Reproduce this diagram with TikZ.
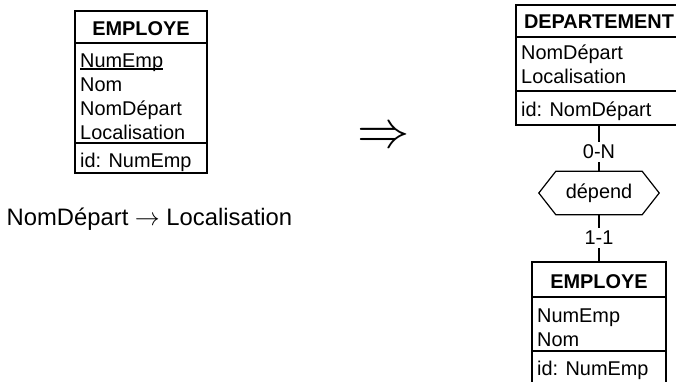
\documentclass[tikz,border=0pt]{standalone}
\usepackage{graphicx}
\usepackage{fontspec}
\setmainfont{Liberation Sans}
\newcommand\boxfont{\fontsize{19.9}{24}\selectfont}
\tikzset{
  entity/.style={draw, line width=1.2pt, inner sep=0pt},
  sepline/.style={line width=1.2pt},
  ttl/.style={anchor=base, inner sep=0pt, font=\bfseries\boxfont},
  attr/.style={anchor=base west, inner sep=0pt, font=\boxfont},
  card/.style={fill=white, inner sep=3pt, font=\boxfont},
  link/.style={line width=1.2pt},
}
\begin{document}
\begin{tikzpicture}[x=1pt,y=-1pt]
  \useasboundingbox (0,0) rectangle (676,381);
  % Left: flat entity
  \node[entity, minimum width=132pt, minimum height=162pt] (empA) at (141,92) {};
  \draw[sepline] (empA.west |- 0,43) -- (empA.east |- 0,43);
  \draw[sepline] (empA.west |- 0,143) -- (empA.east |- 0,143);
  \node[ttl] (empAt) at (141,35) {EMPLOYE};
  \node[attr] (empAk) at (80,67) {NumEmp};
  \draw[line width=1.1pt] ([yshift=-2pt]empAk.base west) -- ([yshift=-2pt]empAk.base east);
  \node[attr] (empAn) at (80,91) {Nom};
  \node[attr] (empAd) at (80,115) {NomDépart};
  \node[attr] (empAl) at (80,139) {Localisation};
  \node[attr] (empAid) at (80,167) {id: NumEmp};
  % Dependency
  \node[anchor=base west, inner sep=0pt, font=\fontsize{23.8}{28}\selectfont] (fd) at (6.5,225)
    {NomDépart $\rightarrow$ Localisation};
  % Transformation
  \node[anchor=base, inner sep=0pt, font=\fontsize{24.88}{28}\selectfont] (impl) at (384,147)
    {\scalebox{2.1}{$\Rightarrow$}};
  % Right: normalised schema
  \node[entity, minimum width=166pt, minimum height=120pt] (dept) at (599,65) {};
  \draw[sepline] (dept.west |- 0,37) -- (dept.east |- 0,37);
  \draw[sepline] (dept.west |- 0,91) -- (dept.east |- 0,91);
  \node[ttl] (deptt) at (599,28) {DEPARTEMENT};
  \node[attr] (deptn) at (521,59) {NomDépart};
  \node[attr] (deptl) at (521,83) {Localisation};
  \node[attr] (deptid) at (521,116) {id: NomDépart};
  \node[inner sep=0pt, minimum width=120pt, minimum height=43pt, font=\boxfont] (dep) at (599,193) {dépend};
  \draw[link] (dep.west) -- ([xshift=17pt]dep.north west) -- ([xshift=-17pt]dep.north east)
    -- (dep.east) -- ([xshift=-17pt]dep.south east) -- ([xshift=17pt]dep.south west) -- cycle;
  \node[entity, minimum width=134pt, minimum height=130pt] (empB) at (599,327) {};
  \draw[sepline] (empB.west |- 0,297) -- (empB.east |- 0,297);
  \draw[sepline] (empB.west |- 0,351) -- (empB.east |- 0,351);
  \node[ttl] (empBt) at (599,288) {EMPLOYE};
  \node[attr] (empBk) at (537,322) {NumEmp};
  \node[attr] (empBn) at (537,346) {Nom};
  \node[attr] (empBid) at (537,375) {id: NumEmp};
  \draw[link] (dept) -- node[card, pos=0.57] (cardD) {0-N} (dep);
  \draw[link] (dep) -- node[card, pos=0.5] (cardE) {1-1} (empB);
\end{tikzpicture}
\end{document}
